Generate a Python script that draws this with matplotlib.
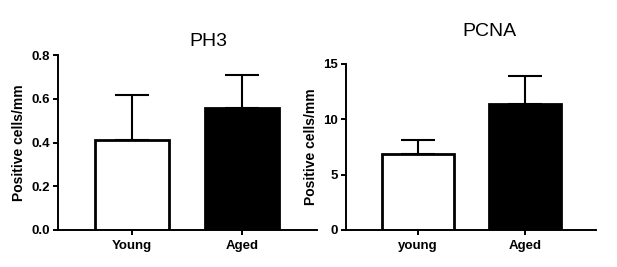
import matplotlib.pyplot as plt

plt.rcParams["font.family"] = ["Liberation Sans", "DejaVu Sans"]

# PH3 panel
ph3_groups = ["Young", "Aged"]
ph3_means = [0.413, 0.556]
ph3_err = [0.205, 0.152]

# PCNA panel
pcna_groups = ["young", "Aged"]
pcna_means = [6.87, 11.42]
pcna_err = [1.23, 2.50]

bar_colors = ["white", "black"]


def draw_panel(ax, groups, means, err, ylim, yticks, yfmt, xlim, title, title_xy):
    x = list(range(len(groups)))
    ax.errorbar(x, means, yerr=[[0] * len(err), err], fmt="none",
                ecolor="black", elinewidth=1.5, capsize=12.5, capthick=1.5, zorder=1)
    ax.bar(x, means, width=0.68, color=bar_colors, edgecolor="black",
           linewidth=2, zorder=2)
    ax.set_xlim(*xlim)
    ax.set_ylim(*ylim)
    ax.set_yticks(yticks)
    ax.set_yticklabels([yfmt.format(v) for v in yticks], fontweight="bold", fontsize=9.5)
    ax.set_xticks(x)
    ax.set_xticklabels(groups, fontweight="bold", fontsize=9.5)
    ax.set_ylabel("Positive cells/mm", fontweight="bold", fontsize=10, labelpad=4)
    for side in ["top", "right"]:
        ax.spines[side].set_visible(False)
    for side in ["left", "bottom"]:
        ax.spines[side].set_linewidth(1.4)
    ax.tick_params(direction="out", length=3.5, width=1.4, pad=2)
    ax.tick_params(axis="x", pad=4)
    ax.figure.text(title_xy[0], title_xy[1], title, fontsize=14,
                   ha="center", va="center")


fig = plt.figure(figsize=(6.17, 2.67), dpi=100)

ax1 = fig.add_axes([58 / 617, 37 / 267, 259 / 617, 175 / 267])
draw_panel(ax1, ph3_groups, ph3_means, ph3_err, (0, 0.8),
           [0.0, 0.2, 0.4, 0.6, 0.8], "{:.1f}", (-0.673, 1.682),
           "PH3", (208 / 617, 1 - 42 / 267))

ax2 = fig.add_axes([346 / 617, 37 / 267, 250 / 617, 166 / 267])
draw_panel(ax2, pcna_groups, pcna_means, pcna_err, (0, 15),
           [0, 5, 10, 15], "{:d}", (-0.673, 1.664),
           "PCNA", (489 / 617, 1 - 32 / 267))

fig.savefig("out.png", dpi=100, facecolor="white")
